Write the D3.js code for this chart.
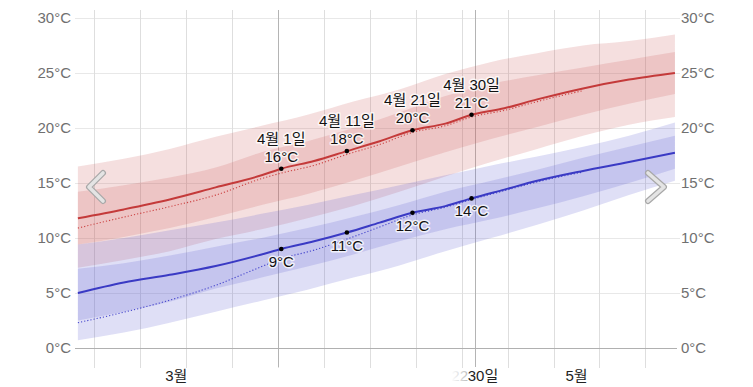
<!DOCTYPE html>
<html>
<head>
<meta charset="utf-8">
<script src="https://cdn.jsdelivr.net/npm/d3@7"></script>
<style>
  body { margin: 0; background: #fff; }
  svg { display: block; font-family: "Liberation Sans", Arial, "Noto Sans CJK KR", sans-serif; }
</style>
</head>
<body>
<div id="chart"></div>
<script>
// weekly samples for the percentile bands (noon of each day)
var bandDays = ['03-01','03-08','03-15','03-22','03-29','04-05','04-12','04-19','04-26','05-03','05-10','05-17','05-24','05-31'];
var highP90 = [16.5, 17.2, 18.1, 19.2, 20.2, 21.2, 22.4, 23.5, 24.9, 26.0, 26.8, 27.5, 27.9, 28.5];
var highP75 = [14.2, 14.8, 15.5, 16.4, 17.8, 18.8, 20.0, 21.4, 22.9, 24.0, 24.8, 25.5, 26.2, 26.9];
var highP25 = [9.4, 10.1, 10.9, 11.9, 13.0, 14.0, 15.2, 16.5, 17.8, 19.0, 20.1, 21.2, 22.2, 23.1];
var highP10 = [7.3, 8.0, 8.8, 9.9, 10.8, 11.8, 12.9, 14.2, 15.6, 16.9, 18.1, 19.3, 20.3, 21.0];
var lowP90  = [9.4, 10.0, 10.7, 11.4, 12.2, 13.0, 13.9, 14.8, 15.7, 16.6, 17.4, 18.3, 19.3, 20.5];
var lowP75  = [7.2, 7.7, 8.4, 9.2, 10.0, 10.9, 11.9, 13.0, 14.2, 15.2, 16.2, 17.3, 18.3, 19.3];
var lowP25  = [2.5, 3.3, 4.2, 5.4, 6.4, 7.4, 8.5, 9.7, 10.8, 11.7, 12.7, 13.8, 15.0, 16.3];
var lowP10  = [0.7, 1.4, 2.3, 3.3, 4.3, 5.3, 6.4, 7.5, 8.8, 10.0, 11.2, 12.5, 13.9, 15.2];

// average lines
var lineDays = ['03-01','03-08','03-15','03-22','03-29','04-01','04-06','04-11','04-16','04-21','04-26','04-30','05-05','05-10','05-17','05-24','05-31'];
var highAvg = [11.8, 12.6, 13.5, 14.6, 15.7, 16.3, 17.0, 17.9, 18.8, 19.8, 20.4, 21.2, 21.8, 22.6, 23.6, 24.4, 25.0];
var lowAvg  = [5.0, 5.95, 6.65, 7.45, 8.5, 9.0, 9.7, 10.5, 11.4, 12.3, 12.9, 13.6, 14.4, 15.2, 16.1, 16.9, 17.75];
// dotted lines (run up to 05-17)
var highDot = [10.9, 11.9, 12.85, 13.9, 15.4, 15.9, 16.6, 17.6, 18.5, 19.6, 20.2, 21.0, 21.6, 22.4, 23.4];
var lowDot  = [2.3, 3.25, 4.35, 5.7, 7.4, 8.1, 8.9, 9.9, 11.0, 12.1, 12.8, 13.5, 14.3, 15.1, 16.0];

// labelled days
var markDays  = ['04-01','04-11','04-21','04-30'];
var markNames = ['4월 1일','4월 11일','4월 21일','4월 30일'];
var markHigh  = [16.3, 17.9, 19.8, 21.2];
var markLow   = [9.0, 10.5, 12.3, 13.6];
var markHighText = ['16°C','18°C','20°C','21°C'];
var markLowText  = ['9°C','11°C','12°C','14°C'];

var yTicks = [0, 5, 10, 15, 20, 25, 30];
var monthLabels = [{d: '03-16', t: '3월'}, {d: '05-16', t: '5월'}];

var width = 753, height = 387;
var year = 2024;
function day(s, h) { return new Date(year, +s.slice(0, 2) - 1, +s.slice(3), h == null ? 12 : h); }

var x = d3.scaleTime()
  .domain([new Date(year, 2, 1), new Date(year, 5, 1)])
  .range([74.6, 678.2]);
var y = d3.scaleLinear().domain([0, 30]).range([348, 18]);

var svg = d3.select('#chart').append('svg')
  .attr('width', width)
  .attr('height', height);

// horizontal grid
svg.append('g').selectAll('line')
  .data(yTicks.filter(function(t) { return t > 0; }))
  .enter().append('line')
  .attr('x1', 75).attr('x2', 680)
  .attr('y1', function(d) { return y(d) + 0.5; })
  .attr('y2', function(d) { return y(d) + 0.5; })
  .attr('stroke', '#e8e8e8');

// weekly grid
var weeks = d3.timeMonday.range(new Date(year, 2, 1), new Date(year, 5, 1));
svg.append('g').selectAll('line')
  .data(weeks)
  .enter().append('line')
  .attr('x1', function(d) { return Math.round(x(d)) + 0.5; })
  .attr('x2', function(d) { return Math.round(x(d)) + 0.5; })
  .attr('y1', 10).attr('y2', 368)
  .attr('stroke', '#dedede');

// month lines
svg.append('g').selectAll('line')
  .data([new Date(year, 3, 1), new Date(year, 4, 1)])
  .enter().append('line')
  .attr('x1', function(d) { return Math.round(x(d)) + 0.5; })
  .attr('x2', function(d) { return Math.round(x(d)) + 0.5; })
  .attr('y1', 10).attr('y2', 367)
  .attr('stroke', '#b4b4b4');

// bands
function band(lo, hi, fill) {
  var a = d3.area()
    .x(function(d, i) { return x(day(bandDays[i])); })
    .y0(function(d, i) { return y(lo[i]); })
    .y1(function(d, i) { return y(hi[i]); })
    .curve(d3.curveMonotoneX);
  svg.append('path').datum(bandDays).attr('d', a).attr('fill', fill);
}
band(highP10, highP90, 'rgba(205,95,95,0.2)');
band(highP25, highP75, 'rgba(205,95,95,0.2)');
band(lowP10, lowP90, 'rgba(95,95,210,0.2)');
band(lowP25, lowP75, 'rgba(95,95,210,0.2)');

// zero axis
svg.append('line')
  .attr('x1', 75).attr('x2', 677)
  .attr('y1', y(0) + 0.5).attr('y2', y(0) + 0.5)
  .attr('stroke', '#b0b0b0');

function line(vals, color, dash, w) {
  var l = d3.line()
    .x(function(d, i) { return x(day(lineDays[i])); })
    .y(function(d) { return y(d); })
    .curve(d3.curveMonotoneX);
  svg.append('path').datum(vals).attr('d', l)
    .attr('fill', 'none')
    .attr('stroke', color)
    .attr('stroke-width', w)
    .attr('stroke-dasharray', dash);
}
line(highDot, '#cc4444', '1.2,2', 1.1);
line(lowDot, '#4444cc', '1.2,2', 1.1);
line(highAvg, '#c43a3a', null, 2);
line(lowAvg, '#3a3ac4', null, 2);

// y labels both sides
var lab = svg.append('g').attr('font-size', 15).attr('fill', '#707070');
lab.selectAll('.l').data(yTicks).enter().append('text')
  .attr('x', 71).attr('y', function(d) { return y(d) + 5; })
  .attr('text-anchor', 'end')
  .text(function(d) { return d + '°C'; });
lab.selectAll('.r').data(yTicks).enter().append('text')
  .attr('x', 681).attr('y', function(d) { return y(d) + 5; })
  .text(function(d) { return d + '°C'; });

// month labels
svg.append('g').selectAll('text').data(monthLabels).enter().append('text')
  .attr('x', function(d) { return x(day(d.d)); })
  .attr('y', 381)
  .attr('text-anchor', 'middle')
  .attr('font-size', 15)
  .attr('fill', '#222')
  .text(function(d) { return d.t; });

// faded day label at May line
var grad = svg.append('defs').append('linearGradient').attr('id', 'fade');
grad.append('stop').attr('offset', '0').attr('stop-color', '#fff');
grad.append('stop').attr('offset', '1').attr('stop-color', '#bbb');
svg.append('text').attr('x', 468).attr('y', 381).attr('text-anchor', 'end')
  .attr('font-size', 15).attr('fill', 'url(#fade)').text('22');
svg.append('text').attr('x', 483).attr('y', 381).attr('text-anchor', 'middle')
  .attr('font-size', 15).attr('fill', '#222').text('30일');

// marks
var mk = svg.append('g').attr('font-size', 15).attr('fill', '#111')
  .attr('text-anchor', 'middle')
  .attr('stroke', 'rgba(255,255,255,0.75)').attr('stroke-width', 3)
  .attr('paint-order', 'stroke').attr('stroke-linejoin', 'round');
markDays.forEach(function(d, i) {
  var px = x(day(d));
  mk.append('text').attr('x', px).attr('y', y(markHigh[i]) - 25).text(markNames[i]);
  mk.append('text').attr('x', px).attr('y', y(markHigh[i]) - 7).text(markHighText[i]);
  mk.append('text').attr('x', px).attr('y', y(markLow[i]) + 18).text(markLowText[i]);
  svg.append('circle').attr('cx', px).attr('cy', y(markHigh[i])).attr('r', 2.3).attr('fill', '#000');
  svg.append('circle').attr('cx', px).attr('cy', y(markLow[i])).attr('r', 2.3).attr('fill', '#000');
});

// nav chevrons
function chevron(pts) {
  var p = d3.line()(pts);
  svg.append('path').attr('d', p).attr('fill', 'none')
    .attr('stroke', '#a8a8a8').attr('stroke-width', 6)
    .attr('stroke-linecap', 'round').attr('stroke-linejoin', 'round');
  svg.append('path').attr('d', p).attr('fill', 'none')
    .attr('stroke', '#e4e4e4').attr('stroke-width', 3.6)
    .attr('stroke-linecap', 'round').attr('stroke-linejoin', 'round');
}
chevron([[103, 173], [89, 187], [103, 201]]);
chevron([[648, 173], [664, 187], [648, 201]]);
</script>
</body>
</html>
